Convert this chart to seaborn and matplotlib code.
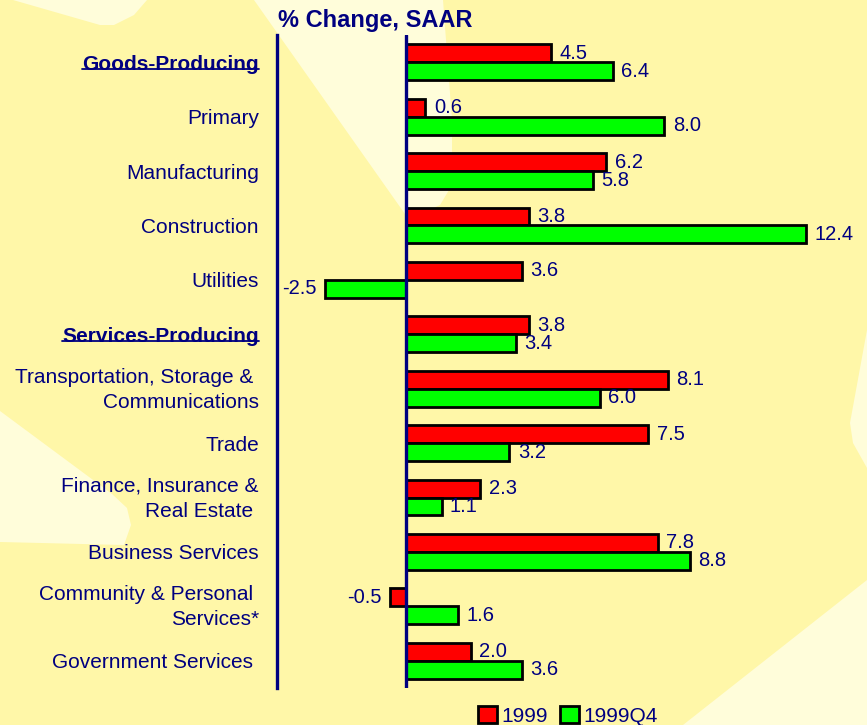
import pandas as pd
import matplotlib
matplotlib.use("Agg")
import matplotlib.pyplot as plt
import matplotlib.transforms as mtransforms
import seaborn as sns
from matplotlib.patches import Polygon, Patch
from matplotlib.lines import Line2D

# ── DATA ────────────────────────────────────────────────────
sectors = [
    "Goods-Producing",
    "Primary",
    "Manufacturing",
    "Construction",
    "Utilities",
    "Services-Producing",
    "Transportation, Storage & \nCommunications",
    "Trade",
    "Finance, Insurance &\nReal Estate ",
    "Business Services",
    "Community & Personal \nServices*",
    "Government Services ",
]
headers = ["Goods-Producing", "Services-Producing"]
series = ["1999", "1999Q4"]
vals_1999 = [4.5, 0.6, 6.2, 3.8, 3.6, 3.8, 8.1, 7.5, 2.3, 7.8, -0.5, 2.0]
vals_1999q4 = [6.4, 8.0, 5.8, 12.4, -2.5, 3.4, 6.0, 3.2, 1.1, 8.8, 1.6, 3.6]

# ── STYLE ───────────────────────────────────────────────────
W, H = 867, 725
NAVY = "#000080"
BASE = "#FFF7A8"
LIGHT = "#FFFDDA"
colors = {"1999": "#FF0000", "1999Q4": "#00FF00"}

sns.set_theme(style="white")
plt.rcParams["font.family"] = ["Liberation Sans", "DejaVu Sans"]

df = pd.DataFrame({
    "sector": sectors * 2,
    "series": [series[0]] * len(sectors) + [series[1]] * len(sectors),
    "value": vals_1999 + vals_1999q4,
})

fig = plt.figure(figsize=(W / 100, H / 100), dpi=100)
fig.patch.set_facecolor(BASE)


def px(x, y):
    return (x / W, 1 - y / H)


# background sunburst rays
rays = [
    [(13, 0), (100, 25), (114, 25), (134, 15), (147, 0)],
    [(254, 0), (443, 0), (452, 120), (452, 185), (440, 205), (420, 214), (405, 214)],
    [(0, 411), (112, 494), (127, 508), (131, 525), (124, 545), (0, 542)],
    [(867, 330), (850, 423), (853, 443), (867, 468)],
    [(683, 725), (867, 580), (867, 725)],
]
for r in rays:
    fig.add_artist(Polygon([px(*p) for p in r], closed=True, transform=fig.transFigure,
                           facecolor=LIGHT, edgecolor="none", zorder=0))

ax = fig.add_axes([277 / W, 1 - 688 / H, 581 / W, 653 / H])
ax.set_facecolor("none")

sns.barplot(data=df, y="sector", x="value", hue="series", order=sectors, hue_order=series,
            orient="h", palette=colors, saturation=1, width=0.66, errorbar=None,
            edgecolor="black", linewidth=2, legend=False, ax=ax, zorder=3)

for c in ax.containers:
    ax.bar_label(c, fmt="%.1f", padding=6, color=NAVY, fontsize=14.5)

ax.set_xlim(-4, 14)
ax.set_ylim(len(sectors) - 0.5, -0.5)
ax.axvline(0, color=NAVY, lw=2.4, zorder=4)
ax.set_xlabel("")
ax.set_ylabel("")
ax.set_xticks([])
for s in ["top", "right", "bottom"]:
    ax.spines[s].set_visible(False)
ax.spines["left"].set_color(NAVY)
ax.spines["left"].set_linewidth(2.4)
ax.tick_params(axis="y", length=0, pad=13, labelsize=15, labelcolor=NAVY)
lift = mtransforms.ScaledTranslation(0, 4 / 100, fig.dpi_scale_trans)
for t in ax.get_yticklabels():
    t.set_linespacing(1.4)
    if "\n" in t.get_text():
        t.set_transform(t.get_transform() + lift)
    if t.get_text() in headers:
        t.set_fontweight("bold")

fig.text(278 / W, 1 - 20 / H, "% Change, SAAR", ha="left", va="center",
         fontsize=17, fontweight="bold", color=NAVY)

handles = [Patch(facecolor=colors[s], edgecolor="black", linewidth=2, label=s) for s in series]
fig.legend(handles=handles, loc="center", bbox_to_anchor=(568 / W, 1 - 716 / H), ncol=2,
           frameon=False, fontsize=15, labelcolor=NAVY, handlelength=0.9, handleheight=0.9,
           handletextpad=0.2, columnspacing=0.6, borderpad=0)

# underline the two header labels
fig.canvas.draw()
renderer = fig.canvas.get_renderer()
for t in ax.get_yticklabels():
    if t.get_text() in headers:
        bb = t.get_window_extent(renderer)
        y = bb.y0 + 5
        fig.add_artist(Line2D([bb.x0 / W, bb.x1 / W], [y / H, y / H], transform=fig.transFigure,
                              color=NAVY, lw=1.3))

plt.savefig("out.png", dpi=100, facecolor=fig.get_facecolor())
plt.close()
